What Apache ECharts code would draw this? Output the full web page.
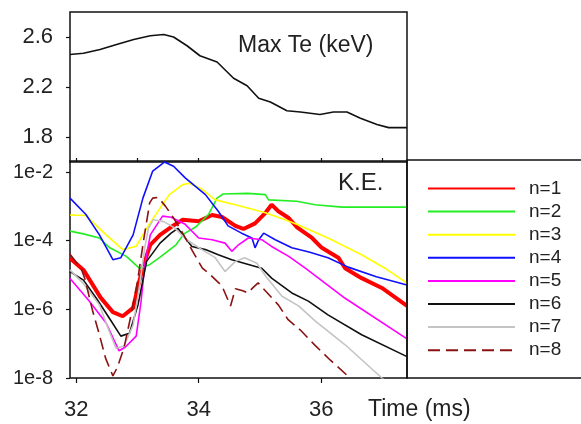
<!DOCTYPE html>
<html>
<head>
<meta charset="utf-8">
<script src="https://cdn.jsdelivr.net/npm/echarts@6/dist/echarts.min.js"></script>
<style>
  html, body { margin: 0; padding: 0; background: #fff; }
  #chart { width: 581px; height: 424px; }
</style>
</head>
<body>
<div id="chart"></div>
<script>
var chartDom = document.getElementById('chart');
var myChart = echarts.init(chartDom);

// Max Te (keV) vs time (ms)
var timeTe = [31.9, 32.12, 32.39, 32.66, 32.94, 33.21, 33.43, 33.59, 33.81, 34.02, 34.3, 34.57, 34.79, 34.98, 35.17, 35.44, 35.66, 35.98, 36.2, 36.42, 36.64, 36.91, 37.1, 37.4];
var maxTe  = [2.46, 2.47, 2.50, 2.54, 2.58, 2.61, 2.62, 2.60, 2.53, 2.45, 2.40, 2.27, 2.21, 2.11, 2.08, 2.01, 2.00, 1.98, 2.00, 2.00, 1.95, 1.90, 1.875, 1.875];

// K.E. per mode, [time, value]
var ke1 = [[31.9,3.1e-5],[32.12,1.41e-5],[32.4,2.2e-6],[32.6,8.3e-7],[32.76,6.3e-7],[32.93,1.1e-6],[33.03,6.6e-6],[33.12,2.5e-5],[33.21,7.6e-5],[33.37,1.48e-4],[33.55,2.5e-4],[33.74,4.1e-4],[34.0,3.7e-4],[34.22,5.6e-4],[34.38,4.9e-4],[34.6,2.7e-4],[34.73,2.2e-4],[34.92,3.2e-4],[35.09,6.5e-4],[35.19,1.12e-3],[35.3,7.2e-4],[35.47,4.6e-4],[35.6,2.5e-4],[35.85,1.2e-4],[36.01,6.2e-5],[36.28,3.2e-5],[36.39,1.58e-5],[36.66,8.1e-6],[36.99,4.2e-6],[37.4,1.26e-6]];
var ke2 = [[31.9,1.9e-4],[32.12,1.58e-4],[32.38,1.2e-4],[32.55,6.2e-5],[32.82,3.5e-5],[33.03,1.58e-5],[33.2,2.0e-5],[33.36,3.2e-5],[33.63,7.6e-5],[33.76,1.58e-4],[33.95,2.5e-4],[34.07,4.0e-4],[34.16,5.8e-4],[34.3,1.74e-3],[34.4,2.3e-3],[34.8,2.4e-3],[35.09,2.2e-3],[35.14,1.55e-3],[35.6,1.41e-3],[35.9,1.12e-3],[36.34,9.5e-4],[37.4,9.5e-4]];
var ke3 = [[31.9,5.6e-4],[32.16,5.4e-4],[32.49,1.48e-4],[32.76,5.5e-5],[32.98,6.9e-5],[33.19,3.0e-4],[33.52,2.2e-3],[33.74,4.3e-3],[33.85,4.7e-3],[34.05,3.2e-3],[34.27,1.55e-3],[34.6,1.12e-3],[35.09,6.5e-4],[35.41,4.1e-4],[35.6,3.0e-4],[36.11,1.2e-4],[36.66,3.9e-5],[37.04,1.58e-5],[37.4,5.8e-6]];
var ke4 = [[31.9,1.74e-3],[32.16,5.8e-4],[32.38,1.48e-4],[32.6,2.8e-5],[32.73,3.2e-5],[32.93,1.48e-4],[33.09,1.74e-3],[33.25,1.07e-2],[33.44,1.95e-2],[33.59,1.48e-2],[33.78,6.8e-3],[34.11,2.2e-3],[34.32,7.2e-4],[34.48,2.7e-4],[34.7,1.66e-4],[34.87,1.2e-4],[34.92,6.2e-5],[34.98,1.07e-4],[35.06,1.66e-4],[35.25,1.07e-4],[35.52,6.2e-5],[35.8,4.7e-5],[36.11,3.2e-5],[36.44,1.7e-5],[36.9,8.9e-6],[37.4,5.1e-6]];
var ke5 = [[31.9,7.9e-6],[32.2,1.86e-6],[32.49,4.0e-7],[32.62,1.26e-7],[32.7,6.2e-8],[32.8,7.9e-8],[32.98,1.66e-7],[33.06,1.7e-6],[33.12,1.95e-5],[33.21,1.48e-4],[33.41,5.2e-4],[33.55,4.8e-4],[33.78,3.0e-4],[34.0,1.2e-4],[34.22,1.07e-4],[34.43,8.5e-5],[34.54,4.9e-5],[34.65,7.6e-5],[34.81,1.2e-4],[35.03,1.07e-4],[35.19,6.8e-5],[35.47,3.5e-5],[35.74,1.58e-5],[36.39,2.1e-6],[37.4,1.38e-7]];
var ke6 = [[31.9,1.26e-5],[32.12,7.1e-6],[32.33,2.1e-6],[32.54,5.6e-7],[32.73,1.66e-7],[32.87,2.0e-7],[33.01,1.35e-6],[33.15,2.5e-5],[33.37,8.5e-5],[33.55,1.66e-4],[33.66,2.3e-4],[33.78,1.2e-4],[33.89,6.8e-5],[34.11,5.5e-5],[34.32,3.9e-5],[34.54,2.8e-5],[34.87,1.9e-5],[35.03,1.58e-5],[35.19,8.1e-6],[35.52,3.0e-6],[35.79,1.74e-6],[36.11,6.9e-7],[36.66,1.82e-7],[37.4,4.2e-8]];
var ke7 = [[31.9,1.41e-5],[32.12,5.6e-6],[32.38,1.35e-6],[32.54,2.3e-7],[32.65,7.4e-8],[32.78,8.5e-8],[32.93,3.5e-7],[33.03,4.2e-6],[33.12,6.3e-5],[33.18,2.3e-4],[33.26,4.1e-4],[33.43,3.6e-4],[33.6,2.4e-4],[33.81,1.05e-4],[34.02,6.0e-5],[34.27,3.2e-5],[34.43,1.26e-5],[34.6,2.5e-5],[34.75,3.2e-5],[34.95,2.2e-5],[35.1,8.9e-6],[35.36,2.4e-6],[35.63,1.26e-6],[35.9,4.6e-7],[36.39,9.3e-8],[36.99,1.0e-8],[37.4,2.5e-9]];
var ke8 = [[31.9,4.0e-5],[32.08,1.58e-5],[32.14,8.1e-6],[32.27,8.9e-7],[32.38,1.82e-7],[32.48,3.8e-8],[32.6,1.15e-8],[32.67,2.0e-8],[32.78,7.4e-8],[32.88,5.0e-7],[33.0,6.3e-6],[33.1,1.0e-4],[33.2,1.26e-3],[33.25,1.74e-3],[33.34,1.82e-3],[33.46,1.0e-3],[33.59,4.6e-4],[33.72,1.9e-4],[33.9,5.0e-5],[34.06,1.58e-5],[34.16,1.15e-5],[34.38,4.8e-6],[34.52,1.26e-6],[34.6,4.0e-6],[34.72,3.5e-6],[34.8,3.0e-6],[34.87,4.0e-6],[34.97,5.9e-6],[35.2,2.1e-6],[35.3,1.35e-6],[35.46,5.0e-7],[35.66,2.5e-7],[35.9,8.9e-8],[36.15,3.3e-8],[36.47,1.0e-8],[36.6,5.0e-9]];

var modeNames = ['n=1','n=2','n=3','n=4','n=5','n=6','n=7','n=8'];
var modeData = [ke1, ke2, ke3, ke4, ke5, ke6, ke7, ke8];
var modeColors = ['#ff0000','#22ee22','#ffff00','#1010ff','#ff00ff','#111111','#c4c4c4','#8b1212'];
var modeWidths = [4, 1.6, 1.6, 1.6, 1.6, 1.6, 1.6, 1.6];

var teTicks = [1.8, 2.2, 2.6];
var keTicks = [1e-8, 1e-6, 1e-4, 1e-2];
var timeTicksTop = [32, 33, 34, 35, 36, 37];
var timeTicksBottom = [32, 34, 36];

var fontFam = '"Liberation Sans", Arial, sans-serif';

var series = [{
    type: 'line',
    xAxisIndex: 0,
    yAxisIndex: 0,
    data: timeTe.map(function (t, i) { return [t, maxTe[i]]; }),
    symbol: 'none',
    lineStyle: { color: '#111', width: 1.6 },
    itemStyle: { color: '#111' }
}];
modeNames.forEach(function (name, i) {
    series.push({
        name: name,
        type: 'line',
        xAxisIndex: 1,
        yAxisIndex: 1,
        data: modeData[i],
        symbol: 'none',
        lineStyle: {
            color: modeColors[i],
            width: modeWidths[i],
            type: i == 7 ? [12, 6] : 'solid'
        },
        itemStyle: { color: modeColors[i] }
    });
});

var option = {
    animation: false,
    grid: [
        { left: 70, top: 12, width: 337, height: 150, show: true, borderColor: '#111', borderWidth: 1.5 },
        { left: 70, top: 161, width: 337, height: 217, show: true, borderColor: '#111', borderWidth: 1.5 }
    ],
    xAxis: [{
        gridIndex: 0, type: 'value', min: 31.9, max: 37.4,
        axisLine: { show: false },
        axisTick: { inside: true, length: 4, customValues: timeTicksTop, lineStyle: { color: '#111', width: 1.2 } },
        axisLabel: { show: false },
        splitLine: { show: false }
    }, {
        gridIndex: 1, type: 'value', min: 31.9, max: 37.4,
        axisLine: { show: false },
        axisTick: { length: 5, customValues: timeTicksBottom, lineStyle: { color: '#111', width: 1.2 } },
        axisLabel: { customValues: timeTicksBottom, fontSize: 22, margin: 21, color: '#222', fontFamily: fontFam },
        splitLine: { show: false }
    }],
    yAxis: [{
        gridIndex: 0, type: 'value', min: 1.6, max: 2.8,
        axisLine: { show: false },
        axisTick: { show: true, length: 4, customValues: teTicks, lineStyle: { color: '#111', width: 1.2 } },
        axisLabel: { customValues: teTicks, fontSize: 22, margin: 17, color: '#222', fontFamily: fontFam,
            formatter: function (v) { return v.toFixed(1); } },
        splitLine: { show: false }
    }, {
        gridIndex: 1, type: 'log', logBase: 10, min: 1e-8, max: 0.021,
        axisLine: { show: false },
        axisTick: { show: true, length: 4, customValues: keTicks, lineStyle: { color: '#111', width: 1.2 } },
        axisLabel: { customValues: keTicks, fontSize: 20, margin: 17, color: '#222', fontFamily: fontFam,
            formatter: function (v) { return '1e' + Math.round(Math.log10(v)); } },
        splitLine: { show: false }
    }],
    legend: {
        data: modeNames,
        orient: 'vertical',
        left: 422,
        top: 174,
        itemWidth: 87,
        itemHeight: 16,
        itemGap: 4.1,
        itemStyle: { opacity: 0 },
        textStyle: { fontSize: 19, color: '#222', fontFamily: fontFam, padding: [0, 0, 0, 9] }
    },
    graphic: [
        { type: 'rect', shape: { x: 407, y: 160, width: 190, height: 218 },
          style: { fill: 'none', stroke: '#111', lineWidth: 1.5 }, z: 100 },
        { type: 'text', x: 238, y: 46,
          style: { text: 'Max Te (keV)', fontSize: 23, fill: '#222', fontFamily: fontFam, verticalAlign: 'middle' } },
        { type: 'text', x: 338, y: 183,
          style: { text: 'K.E.', fontSize: 24, fill: '#222', fontFamily: fontFam, verticalAlign: 'middle' } },
        { type: 'text', x: 368, y: 410,
          style: { text: 'Time (ms)', fontSize: 23, fill: '#222', fontFamily: fontFam, verticalAlign: 'middle' } }
    ],
    series: series
};

option && myChart.setOption(option);
</script>
</body>
</html>
